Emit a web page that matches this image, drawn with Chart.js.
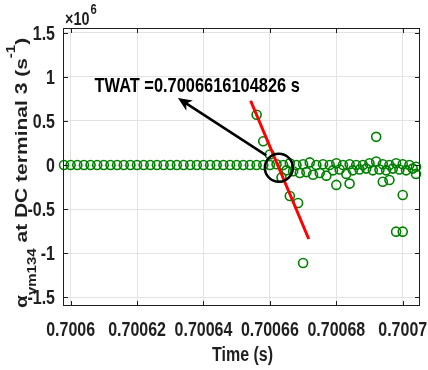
<!DOCTYPE html>
<html>
<head>
<meta charset="utf-8">
<script src="https://cdn.jsdelivr.net/npm/chart.js@4.4.1/dist/chart.umd.min.js"></script>
<style>
  html, body { margin: 0; padding: 0; background: #fff; }
  #grafico { display: block; }
</style>
</head>
<body>
<canvas id="grafico" width="428" height="370"></canvas>
<script>
// muestras a 2 us (serie principal)
const tiemposBase = [
  0.700598, 0.7006, 0.700602, 0.700604, 0.700606, 0.700608, 0.70061, 0.700612,
  0.700614, 0.700616, 0.700618, 0.70062, 0.700622, 0.700624, 0.700626, 0.700628,
  0.70063, 0.700632, 0.700634, 0.700636, 0.700638, 0.70064, 0.700642, 0.700644,
  0.700646, 0.700648, 0.70065, 0.700652, 0.700654, 0.700656, 0.700658, 0.70066,
  0.700662, 0.700664, 0.700666, 0.700668, 0.70067, 0.700672, 0.700674, 0.700676,
  0.700678, 0.70068, 0.700682, 0.700684, 0.700686, 0.700688, 0.70069, 0.700692,
  0.700694, 0.700696, 0.700698, 0.7007, 0.700702, 0.700704
];
const valoresBase = [
  0, 0, 0, 0, 0, 0, 0, 0,
  0, 0, 0, 0, 0, 0, 0, 0,
  0, 0, 0, 0, 0, 0, 0, 0,
  0, 0, 0, 0, 0, 0, 0, 0,
  0.01, 0, 0.02, 0, 0.01, 0.03, 0, 0.01,
  0, 0.02, 0, 0.01, 0, 0, 0.02, 0.04,
  0.01, 0, 0.02, 0.01, 0, -0.02
];

// muestras de la perturbacion (x10^6 s^-1)
const tiemposFalla = [
  0.700656, 0.700658, 0.70066, 0.7006635, 0.700665, 0.700666, 0.700667, 0.7006685,
  0.700669, 0.70067, 0.700671, 0.700673, 0.700675, 0.700677, 0.700679, 0.70068,
  0.700681, 0.700683, 0.700684, 0.700685, 0.700687, 0.700689, 0.700691, 0.700692,
  0.700693, 0.700694, 0.700695, 0.700696, 0.700697, 0.700698, 0.700699, 0.7007,
  0.7007, 0.700701, 0.700703, 0.700704
];
const valoresFalla = [
  0.57, 0.27, 0.12, -0.14, -0.06, -0.35, -0.07, -0.43,
  -0.09, -1.11, -0.08, -0.11, -0.09, -0.12, -0.06, -0.225,
  -0.05, -0.1, -0.21, -0.06, -0.05, -0.04, -0.06, 0.32,
  -0.05, -0.19, -0.06, -0.17, -0.04, -0.755, -0.05, -0.755,
  -0.34, -0.06, -0.04, -0.1
];

// recta de ajuste y punto TWAT
const rectaX = [0.7006542, 0.7006717];
const rectaY = [0.729, -0.838];
const twatX = [0.7006627];
const twatY = [-0.03];

const marcasX = [0.7006, 0.70062, 0.70064, 0.70066, 0.70068, 0.7007];
const rotulosX = ["0.7006", "0.70062", "0.70064", "0.70066", "0.70068", "0.7007"];
const marcasY = [-1.5, -1, -0.5, 0, 0.5, 1, 1.5];
const rotulosY = ["-1.5", "-1", "-0.5", "0", "0.5", "1", "1.5"];

const VERDE = "#008000";
const TINTA = "#1f1f1f";
const FAMILIA = "'Liberation Sans', Arial, sans-serif";
const ESTRECHO = 0.8;

function pares(xs, ys) {
  return xs.map((x, i) => ({ x: x, y: ys[i] }));
}

// el original tiene el texto comprimido en horizontal
function textoComprimido(ctx, texto, x, y, tam, alinear) {
  ctx.save();
  ctx.translate(x, y);
  ctx.scale(ESTRECHO, 1);
  ctx.font = "bold " + tam + "px " + FAMILIA;
  ctx.textAlign = alinear || "left";
  ctx.textBaseline = "alphabetic";
  ctx.fillText(texto, 0, 0);
  const ancho = ctx.measureText(texto).width * ESTRECHO;
  ctx.restore();
  return ancho;
}

const anotaciones = {
  id: "anotaciones",
  afterDatasetsDraw(chart) {
    const { ctx, chartArea: a, scales } = chart;
    const sx = scales.x, sy = scales.y;
    ctx.save();
    ctx.strokeStyle = TINTA;
    ctx.lineWidth = 1;
    ctx.strokeRect(Math.round(a.left) + 0.5, Math.round(a.top) + 0.5,
      Math.round(a.right - a.left) - 1, Math.round(a.bottom - a.top) - 1);

    // marcas hacia dentro
    ctx.beginPath();
    sx.ticks.forEach((t) => {
      const px = Math.round(sx.getPixelForValue(t.value)) + 0.5;
      ctx.moveTo(px, a.bottom); ctx.lineTo(px, a.bottom - 5);
      ctx.moveTo(px, a.top); ctx.lineTo(px, a.top + 5);
    });
    sy.ticks.forEach((t) => {
      const py = Math.round(sy.getPixelForValue(t.value)) + 0.5;
      ctx.moveTo(a.left, py); ctx.lineTo(a.left + 5, py);
      ctx.moveTo(a.right, py); ctx.lineTo(a.right - 5, py);
    });
    ctx.stroke();

    // rotulos de las marcas
    ctx.fillStyle = TINTA;
    sx.ticks.forEach((t, i) => {
      textoComprimido(ctx, rotulosX[i], sx.getPixelForValue(t.value), a.bottom + 30, 20, "center");
    });
    sy.ticks.forEach((t, i) => {
      textoComprimido(ctx, rotulosY[i], a.left - 8, sy.getPixelForValue(t.value) + 7, 20, "right");
    });

    // flecha
    const x0 = sx.getPixelForValue(0.7006589), y0 = sy.getPixelForValue(0.11);
    const x1 = sx.getPixelForValue(0.7006323), y1 = sy.getPixelForValue(0.76);
    const ang = Math.atan2(y1 - y0, x1 - x0);
    const largo = 14, medio = 6;
    ctx.strokeStyle = "#000";
    ctx.lineWidth = 2.5;
    ctx.beginPath();
    ctx.moveTo(x0, y0);
    ctx.lineTo(x1 - Math.cos(ang) * 8, y1 - Math.sin(ang) * 8);
    ctx.stroke();
    ctx.fillStyle = "#000";
    ctx.beginPath();
    ctx.moveTo(x1, y1);
    const bx = x1 - Math.cos(ang) * largo, by = y1 - Math.sin(ang) * largo;
    ctx.lineTo(bx + Math.sin(ang) * medio, by - Math.cos(ang) * medio);
    ctx.lineTo(x1 - Math.cos(ang) * (largo - 4), y1 - Math.sin(ang) * (largo - 4));
    ctx.lineTo(bx - Math.sin(ang) * medio, by + Math.cos(ang) * medio);
    ctx.closePath();
    ctx.fill();

    // textos
    ctx.fillStyle = "#000";
    textoComprimido(ctx, "TWAT =0.7006616104826 s", sx.getPixelForValue(0.7006072), sy.getPixelForValue(0.834), 20.5, "left");
    ctx.fillStyle = TINTA;
    textoComprimido(ctx, "Time (s)", (a.left + a.right) / 2 + 1, 361, 20, "center");
    const w = textoComprimido(ctx, "\u00d710", a.left + 2, 25, 18, "left");
    textoComprimido(ctx, "6", a.left + 2 + w + 1, 14, 14, "left");

    // titulo del eje y con subindice y superindice
    ctx.save();
    ctx.translate(27, 308);
    ctx.rotate(-Math.PI / 2);
    ctx.scale(1, ESTRECHO);
    ctx.textBaseline = "alphabetic";
    let cx = 0;
    const tramo = (t, tam, dy) => {
      ctx.font = "bold " + tam + "px " + FAMILIA;
      ctx.fillText(t, cx, dy / ESTRECHO);
      cx += ctx.measureText(t).width;
    };
    tramo("\u03b1", 21, 0);
    tramo("vm134", 15, 9);
    tramo(" at DC terminal 3 (s", 21, 0);
    tramo("-1", 15, -12);
    tramo(")", 21, 0);
    ctx.restore();
    ctx.restore();
  }
};

const estiloPunto = {
  showLine: false,
  pointStyle: "circle",
  pointRadius: 4.5,
  pointBorderWidth: 1.6,
  pointBorderColor: VERDE,
  pointBackgroundColor: "rgba(0,0,0,0)",
  clip: false,
  order: 3
};

new Chart(document.getElementById("grafico"), {
  type: "scatter",
  data: {
    datasets: [
      Object.assign({ label: "base", data: pares(tiemposBase, valoresBase) }, estiloPunto),
      Object.assign({ label: "falla", data: pares(tiemposFalla, valoresFalla) }, estiloPunto),
      {
        label: "recta",
        data: pares(rectaX, rectaY),
        showLine: true,
        borderColor: "#ff0000",
        borderWidth: 3,
        pointRadius: 0,
        order: 2
      },
      {
        label: "twat",
        data: pares(twatX, twatY),
        showLine: false,
        pointRadius: 14,
        pointBorderWidth: 2.5,
        pointBorderColor: "#000",
        pointBackgroundColor: "rgba(0,0,0,0)",
        clip: false,
        order: 1
      }
    ]
  },
  options: {
    responsive: false,
    animation: false,
    devicePixelRatio: 1,
    layout: { autoPadding: false, padding: { top: 28, right: 8, left: 0, bottom: 0 } },
    plugins: { legend: { display: false }, tooltip: { enabled: false } },
    scales: {
      x: {
        type: "linear",
        min: 0.7005977,
        max: 0.7007052,
        afterBuildTicks: (eixo) => { eixo.ticks = marcasX.map((v) => ({ value: v })); },
        afterFit: (eixo) => { eixo.height = 64; },
        grid: { color: "#e3e3e3", drawTicks: false },
        border: { display: false },
        ticks: { display: false }
      },
      y: {
        type: "linear",
        min: -1.598,
        max: 1.554,
        afterBuildTicks: (eixo) => { eixo.ticks = marcasY.map((v) => ({ value: v })); },
        afterFit: (eixo) => { eixo.width = 63; },
        grid: { color: "#e3e3e3", drawTicks: false },
        border: { display: false },
        ticks: { display: false }
      }
    }
  },
  plugins: [anotaciones]
});
</script>
</body>
</html>
